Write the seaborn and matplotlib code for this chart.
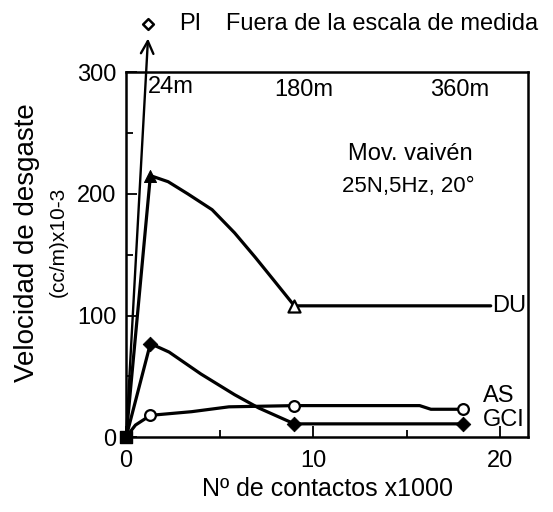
import numpy as np
import pandas as pd
import matplotlib
matplotlib.use('Agg')
import matplotlib.pyplot as plt
import seaborn as sns

# curves (x = contacts x1000, y = wear rate x10-3)
du_x = [0, 1.3, 2.25, 3.3, 4.6, 5.8, 6.9, 7.9, 9.0, 19.5]
du_y = [0, 215, 210, 200, 187, 168, 148, 129, 108, 108]
as_x = [0, 0.5, 1.3, 3.5, 5.5, 9.0, 15.7, 16.3, 18.0]
as_y = [0, 10, 18, 21, 25, 26, 26, 23, 23]
gci_x = [0, 1.3, 2.3, 4.0, 5.8, 7.1, 9.0, 18.0]
gci_y = [0, 77, 70, 52, 35, 24, 11, 11]

# measured points (markers)
du_mx, du_my = [1.3, 9.0], [215, 108]
as_mx, as_my = [1.3, 9.0, 18.0], [18, 26, 23]
gci_mx, gci_my = [1.3, 9.0, 18.0], [77, 11, 11]

times = ['24m', '180m', '360m']
time_x = [1.18, 9.5, 17.85]
time_y = [288, 285, 285]

sns.set_style('ticks')
plt.rcParams['font.family'] = ['Liberation Sans', 'DejaVu Sans']
plt.rcParams['text.color'] = 'black'
plt.rcParams['axes.labelcolor'] = 'black'
plt.rcParams['xtick.color'] = 'black'
plt.rcParams['ytick.color'] = 'black'
plt.rcParams['axes.edgecolor'] = 'black'

FS = 17
fig = plt.figure(figsize=(5.53, 5.12), dpi=100)
ax = fig.add_axes([0.228, 0.146, 0.727, 0.713])

lw = 2.3
for xs, ys in [(du_x, du_y), (as_x, as_y), (gci_x, gci_y)]:
    sns.lineplot(x=xs, y=ys, ax=ax, color='black', lw=lw, sort=False, estimator=None)

sns.scatterplot(x=du_mx[:1], y=du_my[:1], ax=ax, marker='^', s=75, color='black',
                edgecolor='black', zorder=4)
sns.scatterplot(x=du_mx[1:], y=du_my[1:], ax=ax, marker='^', s=75, facecolor='white',
                edgecolor='black', linewidth=1.6, zorder=4)
sns.scatterplot(x=as_mx, y=as_my, ax=ax, marker='o', s=60, facecolor='white',
                edgecolor='black', linewidth=1.6, zorder=4)
sns.scatterplot(x=gci_mx, y=gci_my, ax=ax, marker='D', s=55, color='black',
                edgecolor='black', zorder=4)
ax.scatter([0], [0], marker='s', s=65, color='black', zorder=5, clip_on=False)

# PI: out of measurement range -> arrow leaving the plot
ax.annotate('', xy=(1.18, 330), xytext=(0, 0), annotation_clip=False,
            arrowprops=dict(arrowstyle='->,head_length=0.9,head_width=0.45', color='black', lw=1.7))
ax.scatter([1.18], [340], marker='D', s=30, facecolor='white', edgecolor='black',
           linewidth=1.8, clip_on=False, zorder=5)
ax.text(2.84, 340, 'PI', fontsize=FS, va='center', ha='left')
ax.text(5.36, 340, 'Fuera de la escala de medida', fontsize=FS, va='center', ha='left')

for t, xx, yy in zip(times, time_x, time_y):
    ax.text(xx, yy, t, fontsize=FS, va='center', ha='left' if t == '24m' else 'center')

ax.text(15.2, 233, 'Mov. vaivén', fontsize=FS, ha='center', va='center')
ax.text(15.1, 206, '25N,5Hz, 20°', fontsize=FS - 1, ha='center', va='center')
ax.text(19.6, 108, 'DU', fontsize=FS, ha='left', va='center')
ax.text(19.1, 34, 'AS', fontsize=FS, ha='left', va='center')
ax.text(19.1, 14, 'GCI', fontsize=FS, ha='left', va='center')

ax.set_xlim(0, 21.5)
ax.set_ylim(0, 300)
ax.set_xticks([0, 10, 20])
ax.set_xticks([5, 15], minor=True)
ax.set_yticks([0, 100, 200, 300])
ax.set_yticks([50, 150, 250], minor=True)
ax.tick_params(which='major', direction='in', length=8, width=1.3, labelsize=FS)
ax.tick_params(axis='x', which='major', pad=9)
ax.tick_params(axis='y', which='major', pad=7)
ax.tick_params(which='minor', direction='in', length=5, width=1.3)
for s in ax.spines.values():
    s.set_linewidth(1.8)
    s.set_visible(True)

ax.set_xlabel('Nº de contactos x1000', fontsize=FS + 1, labelpad=4)
# y label: two lines of different size, as in the scan
fig.text(0.049, 0.527, 'Velocidad de desgaste', fontsize=FS + 3, rotation=90,
         ha='center', va='center')
fig.text(0.105, 0.527, '(cc/m)x10-3', fontsize=FS - 2, rotation=90,
         ha='center', va='center')

fig.savefig('out.png', dpi=100)
